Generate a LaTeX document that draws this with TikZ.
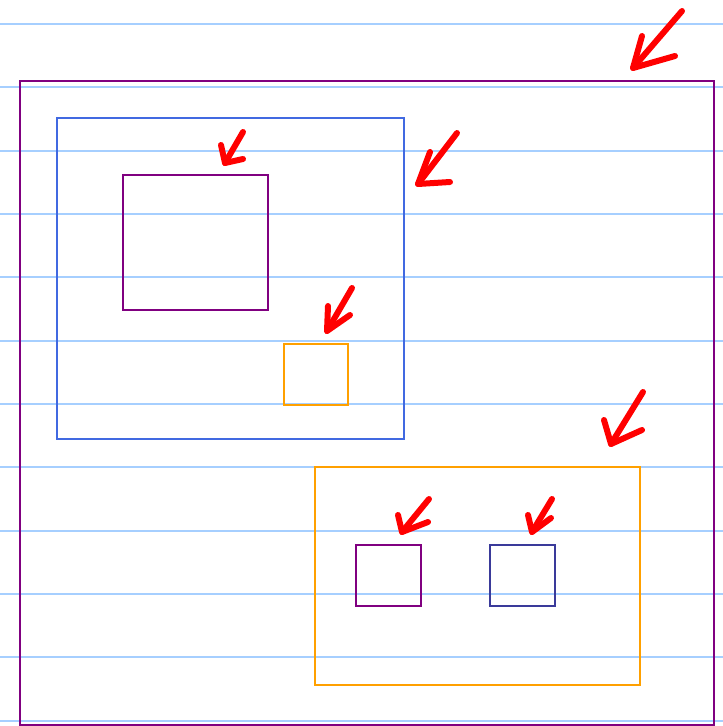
\documentclass[tikz,border=0pt]{standalone}
\usepackage{xcolor}
\definecolor{cRule}{HTML}{A6CFFF}
\definecolor{cPurple}{HTML}{800080}
\definecolor{cBlue}{HTML}{4169E1}
\definecolor{cOrange}{HTML}{FFA000}
\definecolor{cNavy}{HTML}{3A3A9A}
\definecolor{cPen}{HTML}{FF0000}
\usepackage{tikz}
\usetikzlibrary{positioning}
\tikzset{
  box/.style={draw,line width=2.6pt,inner sep=0pt,outer sep=0pt,anchor=north west},
  box-purple/.style={box,draw=cPurple},
  box-blue/.style={box,draw=cBlue},
  box-orange/.style={box,draw=cOrange},
  box-navy/.style={box,draw=cNavy},
  rule-line/.style={draw=cRule,line width=1.8pt},
  pen/.style={draw=cPen,line width=6pt,line cap=round,line join=round},
}

\begin{document}
\begin{tikzpicture}[x=1pt,y=-1pt]
  \useasboundingbox (0,0) rectangle (723,726);
  % ruled paper
  \foreach \k in {0,...,11}
    \draw[rule-line] (0,{24+63.33*\k}) -- (723,{24+63.33*\k});
  % boxes
  \node[box-purple,minimum width=694pt,minimum height=644pt] (outer)   at (20,81)  {};
  \node[box-blue,minimum width=347pt,minimum height=321pt]   (blue)    at (57,118) {};
  \node[box-purple,minimum width=145pt,minimum height=135pt] (inner)   at (123,175) {};
  \node[box-orange,minimum width=64pt,minimum height=61pt]   (small)   at (284,344) {};
  \node[box-orange,minimum width=325pt,minimum height=218pt] (orange)  at (315,467) {};
  \node[box-purple,minimum width=65pt,minimum height=61pt]   (left)    at (356,545) {};
  \node[box-navy,minimum width=65pt,minimum height=61pt]     (right)   at (490,545) {};
  % hand-drawn pointers
  \coordinate (p1) at (633,68);
  \draw[pen] (682,11) -- (p1);
  \draw[pen] (642,36) -- (p1) -- (675,56);
  \coordinate (p2) at (418,184);
  \draw[pen] (457,133) -- (p2);
  \draw[pen] (430,152) -- (p2) -- (450,182);
  \coordinate (p3) at (225,163);
  \draw[pen] (243,132) -- (p3);
  \draw[pen] (221,145) -- (p3) -- (243,159);
  \coordinate (p4) at (327,331);
  \draw[pen] (352,288) -- (p4);
  \draw[pen] (328,306) -- (p4) -- (350,315);
  \coordinate (p5) at (611,444);
  \draw[pen] (643,392) -- (p5);
  \draw[pen] (604,420) -- (p5) -- (642,430);
  \coordinate (p6) at (402,532);
  \draw[pen] (429,499) -- (p6);
  \draw[pen] (398,515) -- (p6) -- (428,522);
  \coordinate (p7) at (532,532);
  \draw[pen] (552,499) -- (p7);
  \draw[pen] (528,515) -- (p7) -- (551,518);
\end{tikzpicture}
\end{document}
